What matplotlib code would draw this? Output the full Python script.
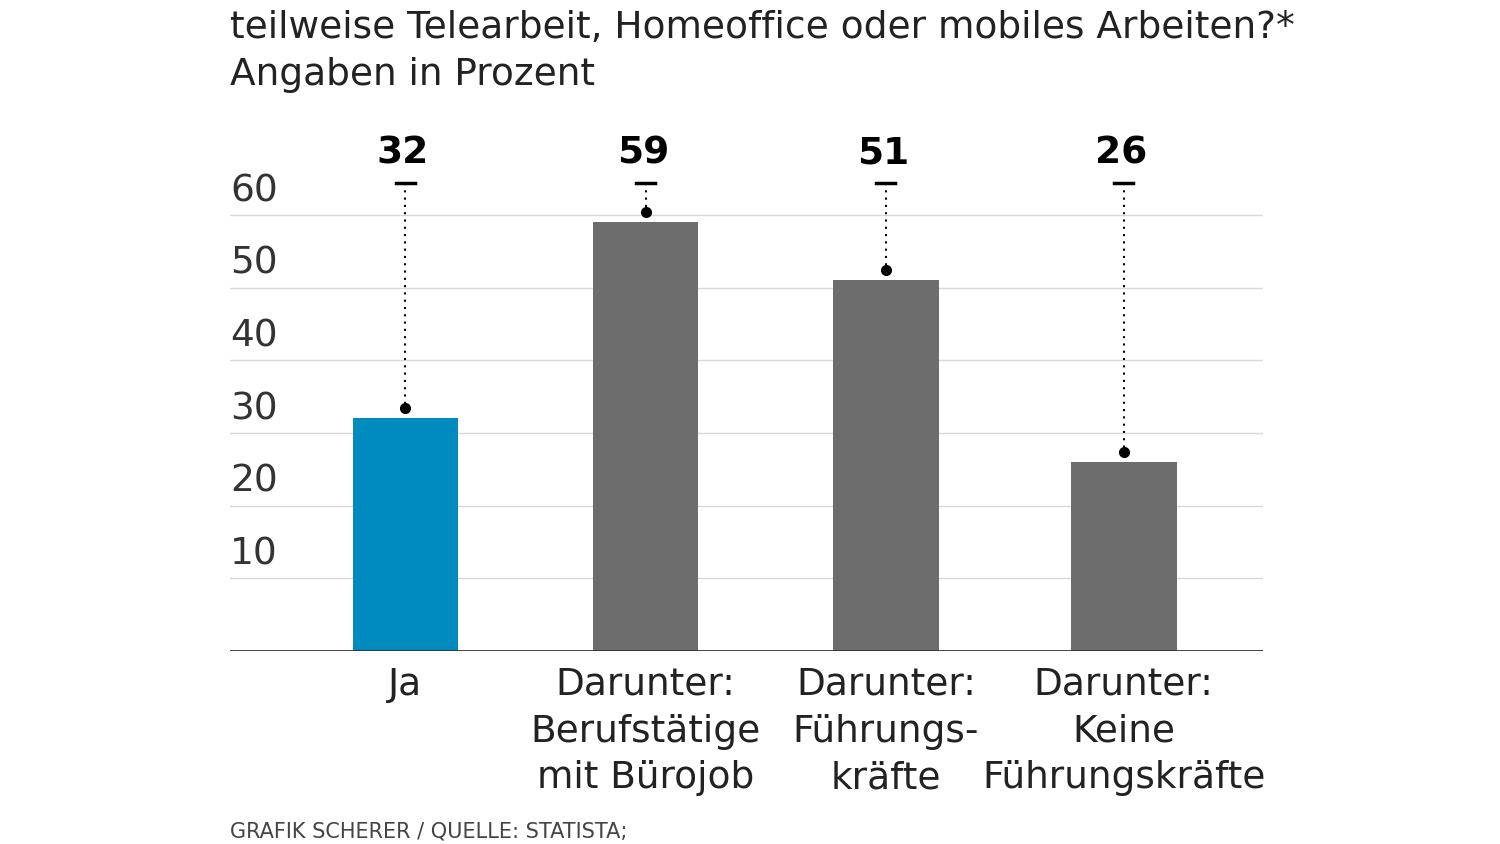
import matplotlib.pyplot as plt

categories = ['Ja', 'Darunter:\nBerufstätige\nmit Bürojob', 'Darunter:\nFührungs-\nkräfte',
              'Darunter:\nKeine\nFührungskräfte']
values = [32, 59, 51, 26]
colors = ['#008bbf', '#6d6d6d', '#6d6d6d', '#6d6d6d']
yticks = [10, 20, 30, 40, 50, 60]

W, H = 1500, 844
fig = plt.figure(figsize=(15, 8.44), dpi=100)
# axes: x 230..1263 px, y baseline 651, value 60 at 215
ax = fig.add_axes([230 / W, 1 - 651 / H, (1263 - 230) / W, (651 - 215) / H * 70 / 60])
ax.set_xlim(-0.73, 3.57)
ax.set_ylim(0, 70)
x = [0, 1, 2, 2.99]
ax.bar(x, values, width=0.44, color=colors, zorder=2)
for t in yticks:
    ax.axhline(t, color='#d8d8d8', lw=1, zorder=1)
    ax.text(-0.73, t + 0.8, str(t), fontsize=27, color='#333333', ha='left', va='bottom')
ax.axhline(0, color='#333333', lw=2, zorder=3)

for xi, v in zip(x, values):
    ax.text(xi - 0.01, 68.4, str(v), fontsize=27, fontweight='bold', ha='center', va='center')
    ax.plot([xi - 0.04, xi + 0.04], [64.4, 64.4], color='black', lw=2.5)
    ax.plot([xi, xi], [64.4, v + 1.4], color='black', lw=1.5, ls=(0, (1, 2.5)))
    ax.plot(xi, v + 1.4, 'o', color='black', ms=7)

for xi, c in zip(x, categories):
    ax.text(xi, -2.2, c, fontsize=27, ha='center', va='top', color='#222222', linespacing=1.38)

for s in ax.spines.values():
    s.set_visible(False)
ax.set_xticks([])
ax.set_yticks([])

fig.text(230 / W, 1 - 28 / H, 'teilweise Telearbeit, Homeoffice oder mobiles Arbeiten?*',
         fontsize=27, va='center', color='#222222')
fig.text(230 / W, 1 - 75 / H, 'Angaben in Prozent', fontsize=27, va='center', color='#222222')
fig.text(230 / W, 1 - 832 / H, 'GRAFIK SCHERER / QUELLE: STATISTA;', fontsize=15,
         va='center', color='#444444')

fig.savefig('out.png', dpi=100)
